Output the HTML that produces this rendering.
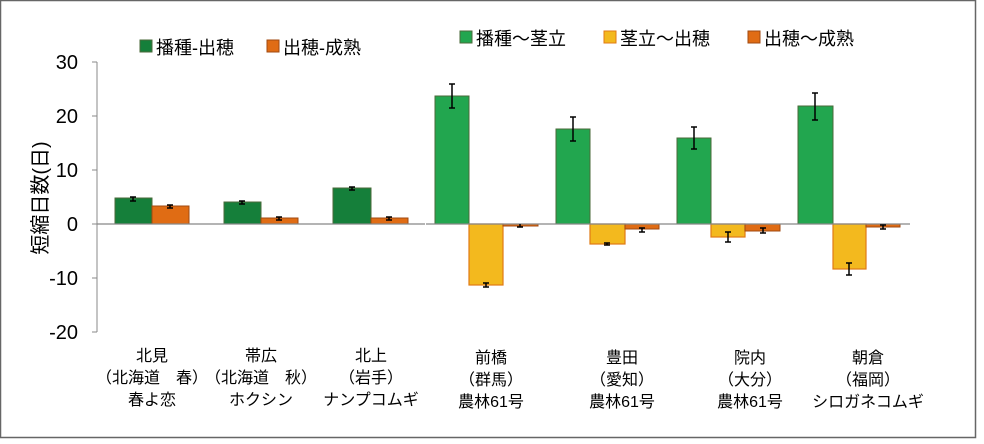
<!DOCTYPE html>
<html><head><meta charset="utf-8"><style>
body{margin:0;background:#fff}
svg text{font-family:"Liberation Sans","Noto Sans CJK JP",sans-serif;fill:#000}
</style></head><body>
<svg width="984" height="439" viewBox="0 0 984 439" xmlns="http://www.w3.org/2000/svg">
<rect x="0.5" y="0.5" width="975" height="437" fill="#fff" stroke="#666" stroke-width="1.5"/>
<line x1="97" y1="62" x2="97" y2="332" stroke="#888" stroke-width="1"/>
<g stroke="#888">
<line x1="92" y1="62" x2="97" y2="62"/><line x1="92" y1="116" x2="97" y2="116"/><line x1="92" y1="170" x2="97" y2="170"/><line x1="92" y1="224" x2="97" y2="224"/><line x1="92" y1="278" x2="97" y2="278"/><line x1="92" y1="332" x2="97" y2="332"/>
</g>
<g font-size="20" text-anchor="end">
<text x="78" y="69">30</text><text x="78" y="123">20</text><text x="78" y="177">10</text><text x="78" y="231">0</text><text x="78" y="285">-10</text><text x="78" y="339">-20</text>
</g>
<text transform="translate(47,198) rotate(-90)" font-size="20" text-anchor="middle">短縮日数(日)</text>
<g stroke="#4a6a3a" stroke-width="1" fill="#157f3a">
<rect x="115" y="198" width="37" height="26"/><rect x="224" y="202" width="37" height="22"/><rect x="333" y="188" width="38" height="36"/>
</g>
<g stroke="#a04a10" stroke-width="1" fill="#e06c14">
<rect x="152" y="206" width="37" height="18"/><rect x="261" y="218" width="37" height="6"/><rect x="371" y="218" width="37" height="6"/>
</g>
<g stroke="#4a6a3a" stroke-width="1" fill="#22a64f">
<rect x="435" y="96" width="34" height="128"/><rect x="556" y="129" width="34" height="95"/><rect x="677" y="138" width="34" height="86"/><rect x="798" y="106" width="35" height="118"/>
</g>
<g stroke="#e07a14" stroke-width="1.2" fill="#f3b91e">
<rect x="469" y="224" width="34" height="61"/><rect x="590" y="224" width="35" height="20"/><rect x="711" y="224" width="34" height="13"/><rect x="833" y="224" width="33" height="45"/>
</g>
<g stroke="#a04a10" stroke-width="1" fill="#e06c14">
<rect x="503" y="224" width="35" height="2"/><rect x="625" y="224" width="34" height="5"/><rect x="745" y="224" width="35" height="7"/><rect x="866" y="224" width="34" height="3"/>
</g>
<line x1="97" y1="224" x2="425" y2="224" stroke="#888" stroke-width="1.2"/>
<line x1="426" y1="224" x2="910" y2="224" stroke="#888" stroke-width="1.2"/>
<g stroke="#000" stroke-width="1.5">
<path d="M133 197v4M130 197h6M130 201h6"/>
<path d="M170 205v3M167 205h6M167 208h6"/>
<path d="M242 201v3M239 201h6M239 204h6"/>
<path d="M279 217v3M276 217h6M276 220h6"/>
<path d="M352 187v3M349 187h6M349 190h6"/>
<path d="M389 217v3M386 217h6M386 220h6"/>
<path d="M452 84v24M449 84h6M449 108h6"/>
<path d="M486 283v4M483 283h6M483 287h6"/>
<path d="M520 224v3M517 227h6"/>
<path d="M573 117v24M570 117h6M570 141h6"/>
<path d="M607 243v2M604 243h6M604 245h6"/>
<path d="M642 228v4M639 228h6M639 232h6"/>
<path d="M694 127v22M691 127h6M691 149h6"/>
<path d="M728 232v10M725 232h6M725 242h6"/>
<path d="M763 228v5M760 228h6M760 233h6"/>
<path d="M815 93v27M812 93h6M812 120h6"/>
<path d="M849 263v12M846 263h6M846 275h6"/>
<path d="M883 225v4M880 225h6M880 229h6"/>
</g>
<g font-size="18">
<rect x="140" y="40" width="12" height="12" fill="#157f3a" stroke="#4a6a3a"/><text x="156" y="54">播種-出穂</text>
<rect x="267" y="40" width="12" height="12" fill="#e06c14" stroke="#a04a10"/><text x="283" y="54">出穂-成熟</text>
<rect x="460" y="31" width="12" height="12" fill="#22a64f" stroke="#4a6a3a"/><text x="476" y="45">播種～茎立</text>
<rect x="604" y="31" width="12" height="12" fill="#f3b91e" stroke="#e07a14"/><text x="620" y="45">茎立～出穂</text>
<rect x="748" y="31" width="12" height="12" fill="#e06c14" stroke="#a04a10"/><text x="764" y="45">出穂～成熟</text>
</g>
<g font-size="16" text-anchor="middle">
<text x="152" y="361">北見</text><text x="152" y="383">（北海道　春）</text><text x="152" y="405">春よ恋</text>
<text x="261" y="361">帯広</text><text x="261" y="383">（北海道　秋）</text><text x="261" y="405">ホクシン</text>
<text x="371" y="361">北上</text><text x="371" y="383">（岩手）</text><text x="371" y="405">ナンプコムギ</text>
<text x="491" y="363">前橋</text><text x="491" y="385">（群馬）</text><text x="491" y="407">農林61号</text>
<text x="622" y="363">豊田</text><text x="622" y="385">（愛知）</text><text x="622" y="407">農林61号</text>
<text x="750" y="363">院内</text><text x="750" y="385">（大分）</text><text x="750" y="407">農林61号</text>
<text x="868" y="363">朝倉</text><text x="868" y="385">（福岡）</text><text x="868" y="407">シロガネコムギ</text>
</g>
</svg>
</body></html>
